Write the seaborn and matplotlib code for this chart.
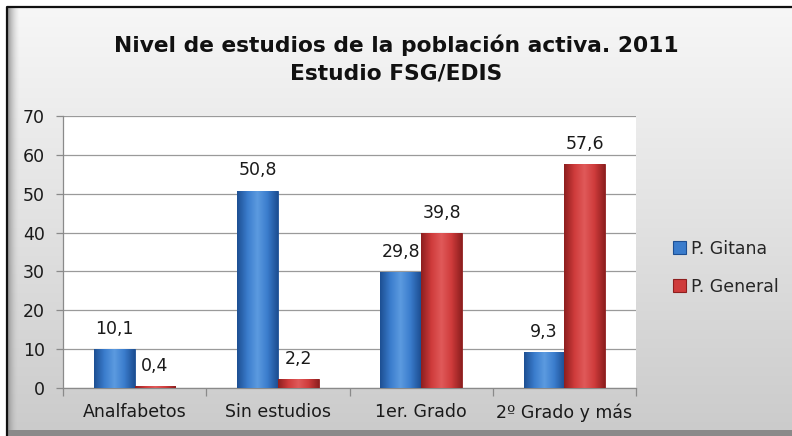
import numpy as np
import pandas as pd
import matplotlib
matplotlib.use("Agg")
import matplotlib.pyplot as plt
import seaborn as sns
from matplotlib.colors import LinearSegmentedColormap
from matplotlib.patches import Rectangle


# datos del grafico

CATEGORIAS = ["Analfabetos", "Sin estudios", "1er. Grado", "2º Grado y más"]
SERIES = ["P. Gitana", "P. General"]
P_GITANA = [10.1, 50.8, 29.8, 9.3]
P_GENERAL = [0.4, 2.2, 39.8, 57.6]
ETIQUETAS_Y = [0, 10, 20, 30, 40, 50, 60, 70]

TITULO = "Nivel de estudios de la población activa. 2011\nEstudio FSG/EDIS"

COLORES = {"P. Gitana": "#3a7ccc", "P. General": "#cf3b3b"}
OSCUROS = {"P. Gitana": "#1d4f93", "P. General": "#8e1f1f"}
CLAROS = {"P. Gitana": "#5c9be0", "P. General": "#e05a5a"}


def montar_tabla() -> pd.DataFrame:
    filas = []
    for cat, g, p in zip(CATEGORIAS, P_GITANA, P_GENERAL):
        filas.append({"categoria": cat, "serie": SERIES[0], "valor": g})
        filas.append({"categoria": cat, "serie": SERIES[1], "valor": p})
    return pd.DataFrame(filas)


def pintar_fondo(fig) -> None:
    fondo = fig.add_axes([0, 0, 1, 1], zorder=-10)
    fondo.set_xlim(0, 792)
    fondo.set_ylim(436, 0)
    fondo.axis("off")
    grad = np.linspace(0, 1, 256).reshape(-1, 1)
    cmap = LinearSegmentedColormap.from_list("gris", ["#f7f7f7", "#e2e2e2", "#cbcbcb"])
    fondo.imshow(grad, cmap=cmap, aspect="auto", extent=[7, 792, 432, 7])
    fondo.add_patch(Rectangle((7, 430), 785, 6, color="#8a8a8a", lw=0))
    sombra = np.linspace(0, 1, 32).reshape(1, -1)
    cmap_s = LinearSegmentedColormap.from_list("s", ["#9a9a9a", "#dadada00"])
    fondo.imshow(sombra, cmap=cmap_s, aspect="auto", extent=[8, 20, 432, 8])
    fondo.plot([7, 7, 792], [436, 7, 7], color="#111111", lw=1.6)


def degradar_barras(ax, serie_por_barra) -> None:
    for barra, serie in zip(ax.patches, serie_por_barra):
        x0, y0 = barra.get_x(), barra.get_y()
        w, h = barra.get_width(), barra.get_height()
        if h <= 0:
            continue
        cmap = LinearSegmentedColormap.from_list(
            "b", [OSCUROS[serie], COLORES[serie], CLAROS[serie], COLORES[serie], OSCUROS[serie]]
        )
        grad = np.linspace(0, 1, 64).reshape(1, -1)
        img = ax.imshow(grad, cmap=cmap, aspect="auto",
                        extent=[x0, x0 + w, y0, y0 + h], zorder=barra.get_zorder() + 0.1)
        img.set_clip_path(barra)
        barra.set_edgecolor(OSCUROS[serie])
        barra.set_linewidth(0.6)


def main() -> None:
    datos = montar_tabla()
    sns.set_theme(style="white")
    plt.rcParams["font.family"] = ["DejaVu Sans"]

    fig = plt.figure(figsize=(7.92, 4.36), dpi=100)
    pintar_fondo(fig)

    ax = fig.add_axes([63 / 792, 48 / 436, 573 / 792, 272 / 436])
    ax.set_facecolor("white")
    sns.barplot(data=datos, x="categoria", y="valor", hue="serie",
                order=CATEGORIAS, hue_order=SERIES, palette=COLORES,
                width=0.57, gap=0, saturation=1, legend=False, ax=ax, zorder=3)

    serie_por_barra = [SERIES[0]] * len(CATEGORIAS) + [SERIES[1]] * len(CATEGORIAS)
    degradar_barras(ax, serie_por_barra)

    for cont in ax.containers:
        ax.bar_label(cont, labels=[f"{v:.1f}".replace(".", ",") for v in cont.datavalues],
                     padding=8, fontsize=12.5, color="#1a1a1a")

    ax.set_ylim(0, 70)
    ax.set_xlim(-0.5, len(CATEGORIAS) - 0.5)
    ax.set_yticks(ETIQUETAS_Y)
    ax.yaxis.grid(True, color="#9a9a9a", lw=0.9)
    ax.set_axisbelow(True)
    ax.set_xlabel("")
    ax.set_ylabel("")
    for lado in ["top", "right"]:
        ax.spines[lado].set_visible(False)
    for lado in ["left", "bottom"]:
        ax.spines[lado].set_color("#8a8a8a")
        ax.spines[lado].set_linewidth(0.9)

    ax.tick_params(axis="y", left=True, length=5, width=0.9, color="#8a8a8a",
                   pad=8, labelsize=12.5, labelcolor="#1a1a1a")
    ax.tick_params(axis="x", which="major", length=0, pad=11, labelsize=12.5, labelcolor="#1a1a1a")
    ax.set_xticks(np.arange(-0.5, len(CATEGORIAS)), minor=True)
    ax.tick_params(axis="x", which="minor", bottom=True, length=6, width=0.9, color="#8a8a8a")

    fig.text(0.5, 1 - 59 / 436, TITULO, ha="center", va="center",
             fontsize=15.7, fontweight="bold", color="#111111", linespacing=1.45)

    manejadores = [Rectangle((0, 0), 1, 1, facecolor=COLORES[s], edgecolor=OSCUROS[s], lw=0.8)
                   for s in SERIES]
    fig.legend(manejadores, SERIES, loc="center left", bbox_to_anchor=(0.83, 0.386),
               frameon=False, fontsize=12.5, handlelength=0.75, handleheight=0.75,
               handletextpad=0.3, labelspacing=1.15)

    fig.savefig("out.png", dpi=100)


if __name__ == "__main__":
    main()
